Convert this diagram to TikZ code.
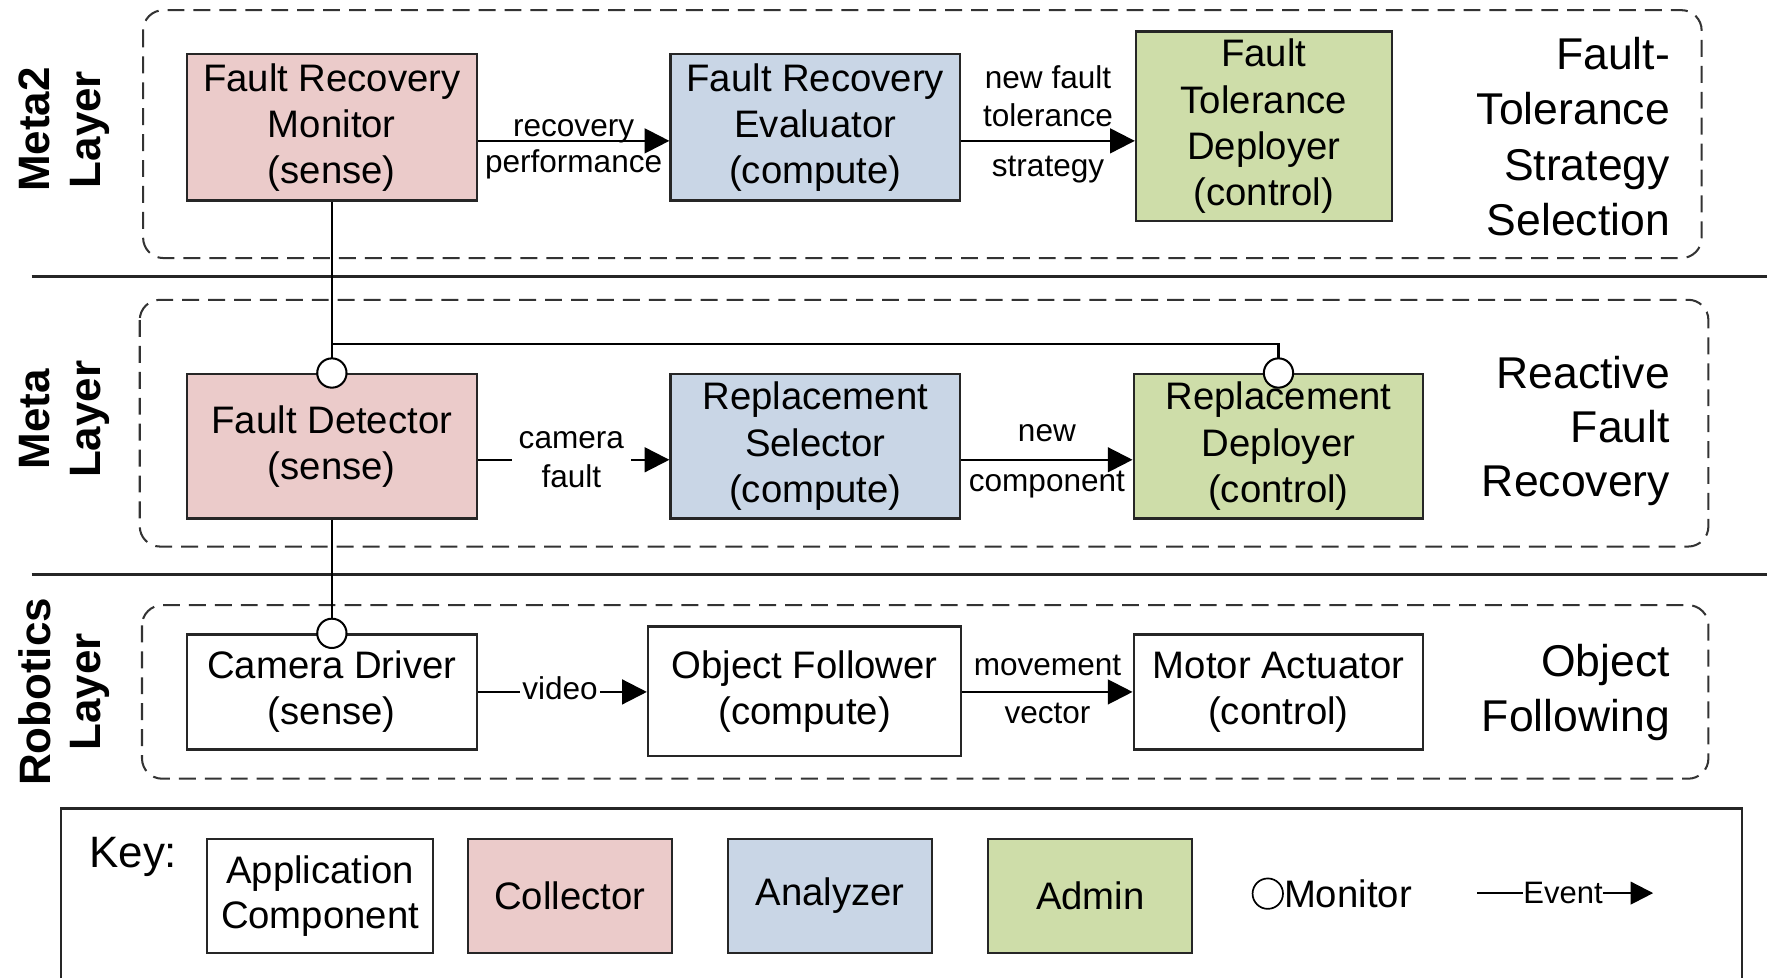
\documentclass[tikz,border=0pt]{standalone}
\usepackage{fontspec}
\setmainfont{Liberation Sans}
\usetikzlibrary{arrows.meta}
\definecolor{collectorfill}{HTML}{EBCBCA}
\definecolor{analyzerfill}{HTML}{C9D6E6}
\definecolor{adminfill}{HTML}{CEDDA9}

\begin{document}
\begin{tikzpicture}[x=1pt,y=-1pt,
  comp/.style={draw=black!85, line width=2pt, inner sep=0pt, align=center,
               font=\fontsize{34}{41}\selectfont},
  collector/.style={comp, fill=collectorfill},
  analyzer/.style={comp, fill=analyzerfill},
  admin/.style={comp, fill=adminfill},
  app/.style={comp, fill=white},
  layerbox/.style={draw=black!80, line width=1.8pt, dash pattern=on 15pt off 8pt,
                   rounded corners=18pt},
  sep/.style={line width=3pt, draw=black!85},
  ev/.style={line width=2pt, -{Triangle[length=22pt,width=22pt]}},
  wire/.style={line width=2pt},
  mon/.style={circle, draw, line width=1.8pt, fill=white, minimum size=26pt, inner sep=0pt},
  elabel/.style={font=\fontsize{28}{34}\selectfont, inner sep=0pt, align=center},
  side/.style={font=\fontsize{39.5}{49}\selectfont, inner sep=0pt, align=right, anchor=north east},
  layername/.style={font=\bfseries\fontsize{39}{45}\selectfont, rotate=90, align=center, inner sep=0pt},
  keytext/.style={font=\fontsize{34}{41}\selectfont, inner sep=0pt}
]
\useasboundingbox (0,0) rectangle (1568,868);

% layer separators
\draw[sep] (28,245.5) -- (1568,245.5);
\draw[sep] (28,510) -- (1568,510);

% dashed layer frames
\draw[layerbox] (127,9) rectangle (1510,229);
\draw[layerbox] (124,266) rectangle (1516,485);
\draw[layerbox] (126,537) rectangle (1516,691);

% layer names
\node[layername] (l1) at (57,115) {Meta2\\Layer};
\node[layername] (l2) at (57,372) {Meta\\Layer};
\node[layername] (l3) at (57,614) {Robotics\\Layer};

% Meta2 layer
\node[collector, minimum width=257pt, minimum height=130pt] (frm) at (294.5,113) {Fault Recovery\\Monitor\\(sense)};
\node[analyzer, minimum width=257pt, minimum height=130pt] (fre) at (723.5,113) {Fault Recovery\\Evaluator\\(compute)};
\node[admin, minimum width=227pt, minimum height=168pt] (ftd) at (1121.5,112) {Fault\\Tolerance\\Deployer\\(control)};
\node[side] (s1) at (1482,33) {Fault-\\Tolerance\\Strategy\\Selection};

% Meta layer
\node[collector, minimum width=257pt, minimum height=128pt] (fd) at (294.5,396) {Fault Detector\\(sense)};
\node[analyzer, minimum width=257pt, minimum height=128pt] (rs) at (723.5,396) {Replacement\\Selector\\(compute)};
\node[admin, minimum width=257pt, minimum height=128pt] (rd) at (1134.5,396) {Replacement\\Deployer\\(control)};
\node[side, font=\fontsize{39.5}{48}\selectfont] (s2) at (1482,315.5) {Reactive\\Fault\\Recovery};

% Robotics layer
\node[app, minimum width=257pt, minimum height=102pt] (cd) at (294.5,614) {Camera Driver\\(sense)};
\node[app, minimum width=278pt, minimum height=115pt] (of) at (714,613.5) {Object Follower\\(compute)};
\node[app, minimum width=257pt, minimum height=102pt] (ma) at (1134.5,614) {Motor Actuator\\(control)};
\node[side, font=\fontsize{39.5}{48.5}\selectfont] (s3) at (1482,571.5) {Object\\Following};

% monitoring wires
\coordinate (tap) at (294.5,305);
\draw[wire] (frm.south) -- (fd.north);
\draw[wire] (tap) -| (rd.north);
\draw[wire] (fd.south) -- (cd.north);
\node[mon] (m1) at (fd.north) {};
\node[mon] (m2) at (rd.north) {};
\node[mon] (m3) at (cd.north) {};

% events
\draw[ev] ([yshift=-12pt]frm.east) -- ([yshift=-12pt]fre.west)
  node[elabel, midway, anchor=base, yshift=4pt] {recovery}
  node[elabel, midway, anchor=base, yshift=-28pt] {performance};
\draw[ev] ([yshift=-12pt]fre.east) -- ([yshift=-13pt]ftd.west)
  node[elabel, midway, anchor=south, yshift=11.5pt] {new fault\\tolerance}
  node[elabel, midway, anchor=base, yshift=-32pt] {strategy};

\draw[ev] ([yshift=-12pt]fd.east) -- ([yshift=-12pt]rs.west)
  node[elabel, midway, fill=white, inner xsep=6pt, inner ysep=2pt, xshift=-2pt] {camera\\fault};
\draw[ev] ([yshift=-12pt]rs.east) -- ([yshift=-12pt]rd.west)
  node[elabel, midway, anchor=base, yshift=16pt] {new}
  node[elabel, midway, anchor=base, yshift=-28pt] {component};

\draw[ev] (cd.east) -- (cd.east -| of.west)
  node[elabel, midway, fill=white, inner xsep=2pt, inner ysep=1pt, anchor=base, yshift=-7pt, xshift=-2pt] {video};
\draw[ev] (of.east |- ma.west) -- (ma.west)
  node[elabel, midway, anchor=base, yshift=15pt] {movement}
  node[elabel, midway, anchor=base, yshift=-28pt] {vector};

% key
\draw[line width=2pt, draw=black!85] (54,868) -- (54,717.5) -- (1546,717.5) -- (1546,868);
\node[keytext, font=\fontsize{39}{47}\selectfont, anchor=base west] (keylbl) at (79,770) {Key:};
\node[app, font=\fontsize{34}{40}\selectfont, minimum width=201pt, minimum height=101pt] (kapp) at (284,795) {Application\\Component};
\node[collector, minimum width=181pt, minimum height=101pt] (kcol) at (505.5,795) {Collector};
\node[analyzer, minimum width=181pt, minimum height=101pt] (kana) at (736.5,795) {Analyzer};
\node[admin, minimum width=181pt, minimum height=101pt] (kadm) at (967.5,795) {Admin};
\node[mon, minimum size=27pt, line width=1.5pt] (kmon) at (1125,793) {};
\node[keytext, anchor=west] (kmontxt) at (kmon.east) {Monitor};
\node[font=\fontsize{27.5}{33}\selectfont, inner sep=0pt] (kev) at (1387,792.5) {Event};
\coordinate (kevL) at (1311,792.5);
\coordinate (kevR) at (1467,792.5);
\draw[wire] (kevL) -- (kev.west);
\draw[line width=2pt, -{Triangle[length=20pt,width=20pt]}] (kev.east) -- (kevR);
\end{tikzpicture}
\end{document}
